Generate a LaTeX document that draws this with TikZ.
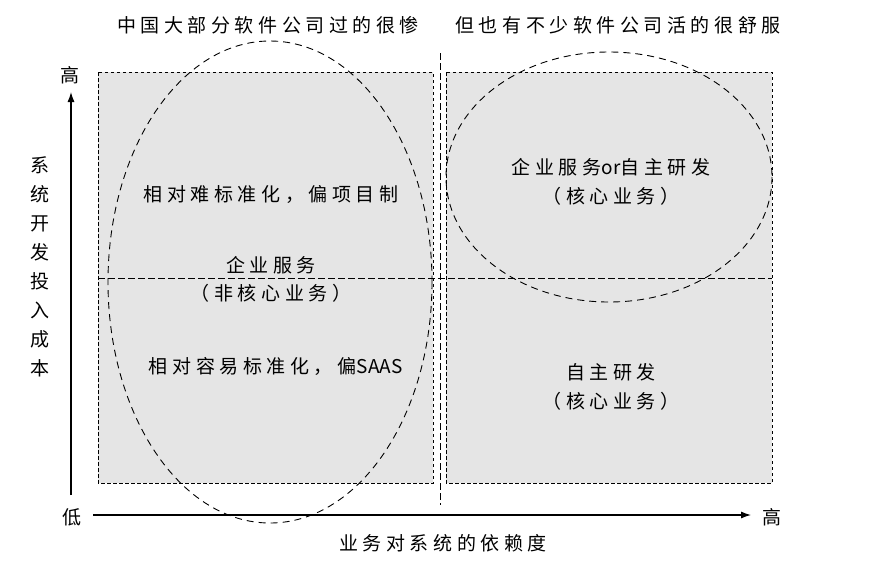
\documentclass[tikz,border=0pt]{standalone}
\usepackage{fontspec}
\setmainfont[LetterSpace=24]{Noto Sans CJK SC}
\newcommand{\latinpart}[1]{{\addfontfeature{LetterSpace=2}#1}}
\usetikzlibrary{arrows.meta}
\begin{document}
\begin{tikzpicture}[x=1pt,y=-1pt,
  txt/.style={font=\fontsize{19}{22}\selectfont, inner sep=0pt, text=black},
  quad/.style={fill=black!10, draw=black, line width=0.9pt, dash pattern=on 3.5pt off 2.5pt},
  oval/.style={draw=black, line width=0.9pt, dash pattern=on 7pt off 5pt},
  divider/.style={draw=black, line width=0.9pt, dash pattern=on 7pt off 3pt},
  axis/.style={draw=black, line width=1.1pt, -{Latex[length=10pt,width=7pt]}}]
\useasboundingbox (0,0) rectangle (874,571);
% quadrant boxes
\path[quad] (98,72) rectangle (433,483);
\path[quad] (446,72) rectangle (772,483);
\draw[black, line width=0.9pt, dash pattern=on 7pt off 3pt] (98,278) -- (772,278);
\draw[divider] (440,53) -- (440,505);
% ellipses
\draw[oval] (270,282) ellipse [x radius=162, y radius=241];
\draw[oval] (609,177) ellipse [x radius=163, y radius=125];
% axes
\coordinate (yo) at (71,495);
\coordinate (yt) at (71,92);
\coordinate (xo) at (93,515);
\coordinate (xt) at (751,515);
\draw[axis] (yo) -- (yt);
\draw[axis] (xo) -- (xt);
\node[txt] (yhigh) at (70,75) {高};
\node[txt] (low) at (72,517) {低};
\node[txt] (xhigh) at (772,517) {高};
\node[txt, align=center, font=\fontsize{19}{29}\selectfont] (ylab) at (40,267) {系\\统\\开\\发\\投\\入\\成\\本};
\node[txt] (xlab) at (443,543) {业务对系统的依赖度};
% titles
\node[txt] (t1) at (268,25) {中国大部分软件公司过的很惨};
\node[txt] (t2) at (618,25) {但也有不少软件公司活的很舒服};
% content
\node[txt] (a1) at (271,195) {相对难标准化，偏项目制};
\node[txt] (a2) at (271,265) {企业服务};
\node[txt] (a3) at (271,293) {（非核心业务）};
\node[txt] (a4) at (276,366) {相对容易标准化，偏\latinpart{SAAS}};
\node[txt] (b1) at (611,167) {企业服务\latinpart{or}自主研发};
\node[txt] (b2) at (611,196) {（核心业务）};
\node[txt] (c1) at (611,372) {自主研发};
\node[txt] (c2) at (611,401) {（核心业务）};
\end{tikzpicture}
\end{document}
